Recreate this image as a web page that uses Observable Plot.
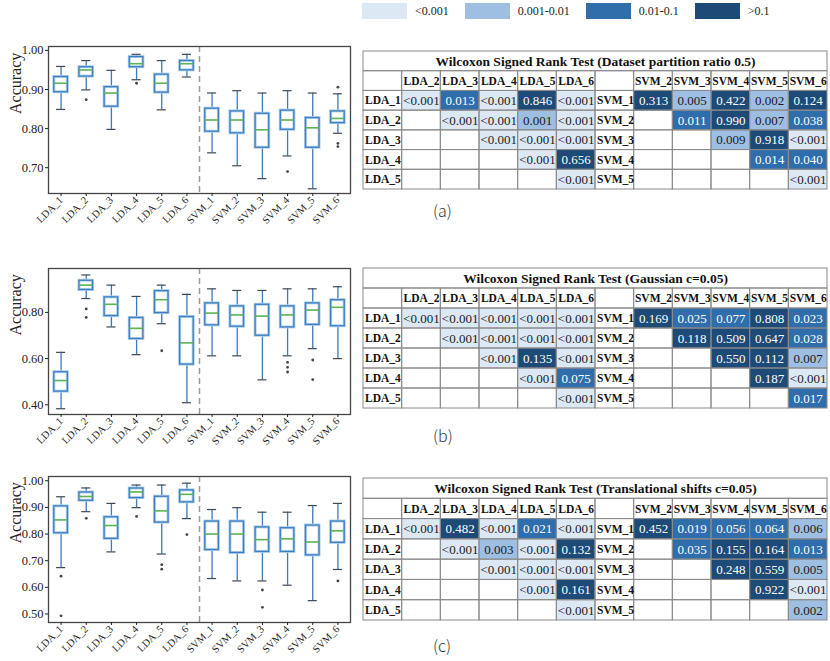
<!DOCTYPE html>
<html>
<head>
<meta charset="utf-8">
<script src="https://cdn.jsdelivr.net/npm/d3@7"></script>
<script src="https://cdn.jsdelivr.net/npm/@observablehq/plot@0.6"></script>
<style>
  html, body { margin: 0; padding: 0; background: #fff; }
  #page { position: relative; width: 830px; height: 661px; overflow: hidden; color: #222; font-family: "Liberation Serif", serif; }
  .abs { position: absolute; }
  .cap { position: absolute; font-family: "Noto Sans CJK SC", sans-serif; font-weight: 300; font-size: 16px; color: #333; }
  .lg-swatches, .lg-swatches * { font-family: "Liberation Serif", serif !important; font-size: 12px !important; color: #222 !important; }
  .lg-swatches { min-height: 0 !important; margin: 0 !important; }
  .lg-swatch { margin-right: 16px !important; }
  .lg-swatch > svg { margin-right: 8px !important; }
</style>
</head>
<body>
<div id="page"></div>
<script>
// ---------- data ----------
const ldaNames = ["LDA_1","LDA_2","LDA_3","LDA_4","LDA_5","LDA_6"];
const svmNames = ["SVM_1","SVM_2","SVM_3","SVM_4","SVM_5","SVM_6"];
const allNames = ldaNames.concat(svmNames);

// (a) Dataset partition ratio 0.5
const hiA  = [0.959, 0.974, 0.949, 0.990, 0.974, 0.990, 0.891, 0.897, 0.891, 0.897, 0.891, 0.889];
const q3A  = [0.932, 0.957, 0.906, 0.983, 0.938, 0.973, 0.851, 0.844, 0.838, 0.846, 0.827, 0.844];
const medA = [0.916, 0.950, 0.891, 0.966, 0.916, 0.966, 0.822, 0.822, 0.797, 0.822, 0.802, 0.826];
const q1A  = [0.893, 0.933, 0.856, 0.957, 0.892, 0.949, 0.792, 0.788, 0.751, 0.797, 0.751, 0.814];
const loA  = [0.849, 0.899, 0.798, 0.925, 0.848, 0.932, 0.738, 0.705, 0.672, 0.730, 0.646, 0.788];
const outA = [["LDA_2",0.874],["LDA_4",0.916],["SVM_4",0.690],["SVM_6",0.906],["SVM_6",0.762],["SVM_6",0.754]];

// (b) Gaussian c=0.05
const hiB  = [0.627, 0.962, 0.918, 0.869, 0.918, 0.878, 0.902, 0.895, 0.895, 0.902, 0.902, 0.911];
const q3B  = [0.541, 0.937, 0.865, 0.776, 0.892, 0.780, 0.839, 0.826, 0.833, 0.826, 0.839, 0.853];
const medB = [0.505, 0.918, 0.835, 0.731, 0.855, 0.668, 0.797, 0.789, 0.784, 0.789, 0.810, 0.822];
const q1B  = [0.457, 0.897, 0.784, 0.685, 0.797, 0.574, 0.744, 0.738, 0.699, 0.735, 0.746, 0.740];
const loB  = [0.383, 0.860, 0.737, 0.617, 0.751, 0.409, 0.612, 0.612, 0.508, 0.612, 0.643, 0.600];
const outB = [["LDA_2",0.815],["LDA_2",0.778],["LDA_5",0.634],["SVM_4",0.584],["SVM_4",0.562],["SVM_4",0.542],["SVM_5",0.594],["SVM_5",0.509]];

// (c) Translational shifts c=0.05
const hiC  = [0.940, 0.973, 0.915, 0.984, 0.984, 0.991, 0.892, 0.899, 0.882, 0.882, 0.907, 0.915];
const q3C  = [0.904, 0.956, 0.863, 0.971, 0.940, 0.964, 0.847, 0.847, 0.825, 0.822, 0.832, 0.847];
const medC = [0.853, 0.941, 0.832, 0.958, 0.887, 0.949, 0.800, 0.800, 0.779, 0.782, 0.770, 0.812];
const q1C  = [0.803, 0.925, 0.782, 0.935, 0.843, 0.919, 0.740, 0.729, 0.733, 0.733, 0.720, 0.767];
const loC  = [0.674, 0.884, 0.733, 0.899, 0.725, 0.858, 0.633, 0.624, 0.624, 0.608, 0.550, 0.667];
const outC = [["LDA_1",0.642],["LDA_1",0.493],["LDA_2",0.859],["LDA_4",0.866],["LDA_5",0.685],["LDA_5",0.668],["LDA_6",0.798],["SVM_3",0.590],["SVM_3",0.525],["SVM_6",0.624]];

const yTicksA = [0.7, 0.8, 0.9, 1.0];
const yTicksB = [0.4, 0.6, 0.8];
const yTicksC = [0.5, 0.6, 0.7, 0.8, 0.9, 1.0];

// Wilcoxon tables (upper triangles)
const titleA = "Wilcoxon Signed Rank Test (Dataset partition ratio 0.5)";
const titleB = "Wilcoxon Signed Rank Test (Gaussian c=0.05)";
const titleC = "Wilcoxon Signed Rank Test (Translational shifts c=0.05)";
const ldaA = [["<0.001","0.013","<0.001","0.846","<0.001"],["<0.001","<0.001","0.001","<0.001"],["<0.001","<0.001","<0.001"],["<0.001","0.656"],["<0.001"]];
const svmA = [["0.313","0.005","0.422","0.002","0.124"],["0.011","0.990","0.007","0.038"],["0.009","0.918","<0.001"],["0.014","0.040"],["<0.001"]];
const ldaB = [["<0.001","<0.001","<0.001","<0.001","<0.001"],["<0.001","<0.001","<0.001","<0.001"],["<0.001","0.135","<0.001"],["<0.001","0.075"],["<0.001"]];
const svmB = [["0.169","0.025","0.077","0.808","0.023"],["0.118","0.509","0.647","0.028"],["0.550","0.112","0.007"],["0.187","<0.001"],["0.017"]];
const ldaC = [["<0.001","0.482","<0.001","0.021","<0.001"],["<0.001","0.003","<0.001","0.132"],["<0.001","<0.001","<0.001"],["<0.001","0.161"],["<0.001"]];
const svmC = [["0.452","0.019","0.056","0.064","0.006"],["0.035","0.155","0.164","0.013"],["0.248","0.559","0.005"],["0.922","<0.001"],["0.002"]];

const pCats = ["<0.001","0.001-0.01","0.01-0.1",">0.1"];
const pColors = ["#dde8f5","#9ebfe1","#2f6dab","#1d4a76"];

// ---------- helpers ----------
const page = document.getElementById("page");
function place(el, left, top) { el.classList.add("abs"); el.style.left = left + "px"; el.style.top = top + "px"; page.appendChild(el); }

function boxPanel(lo, q1, med, q3, hi, outs, yDomain, yTicks, opts) {
  const rows = allNames.map((n, k) => ({name: n, i: k + 1, lo: lo[k], q1: q1[k], med: med[k], q3: q3[k], hi: hi[k]}));
  const pts = outs.map(([n, v]) => ({i: allNames.indexOf(n) + 1, v}));
  const bw = 0.27, cw = 0.18;
  return Plot.plot({
    width: 360, height: opts.height,
    marginLeft: 48, marginRight: 10, marginTop: opts.mt, marginBottom: opts.mb,
    style: {fontFamily: "Liberation Serif, serif", fontSize: "12.5px", background: "transparent", overflow: "visible", color: "#222"},
    x: {domain: [0.5, allNames.length + 0.5]},
    y: {domain: yDomain},
    marks: [
      Plot.ruleX([ldaNames.length + 0.5], {stroke: "#9a9a9a", strokeWidth: 1.5, strokeDasharray: "6,4"}),
      Plot.ruleX(rows, {x: "i", y1: "lo", y2: "q1", stroke: "#3a7bbb", strokeWidth: 1.3}),
      Plot.ruleX(rows, {x: "i", y1: "q3", y2: "hi", stroke: "#3a7bbb", strokeWidth: 1.3}),
      Plot.ruleY(rows, {y: "lo", x1: d => d.i - cw, x2: d => d.i + cw, stroke: "#3d4856", strokeWidth: 1.2}),
      Plot.ruleY(rows, {y: "hi", x1: d => d.i - cw, x2: d => d.i + cw, stroke: "#3d4856", strokeWidth: 1.2}),
      Plot.rect(rows, {x1: d => d.i - bw, x2: d => d.i + bw, y1: "q1", y2: "q3", fill: "white", stroke: "#b0cfea", strokeWidth: 3}),
      Plot.rect(rows, {x1: d => d.i - bw, x2: d => d.i + bw, y1: "q1", y2: "q3", fill: "none", stroke: "#3b7fc0", strokeWidth: 1.3}),
      Plot.ruleY(rows, {y: "med", x1: d => d.i - bw, x2: d => d.i + bw, stroke: "#5bb257", strokeWidth: 1.6}),
      Plot.dot(pts, {x: "i", y: "v", r: 1.4, fill: "#444", stroke: null}),
      Plot.frame({stroke: "#454545", strokeWidth: 1.3}),
      Plot.axisY({ticks: yTicks, tickFormat: d => d.toFixed(2), tickSize: 3, tickPadding: 2, fontSize: 12.5, label: null}),
      Plot.axisX({ticks: d3.range(1, allNames.length + 1), tickFormat: i => allNames[i - 1], tickRotate: -45, tickSize: 3, tickPadding: 2, fontSize: 10.5, label: null}),
      Plot.text(["Accuracy"], {text: d => d, frameAnchor: "left", rotate: -90, dx: -33, dy: -6, fontSize: 16, fill: "#222"})
    ]
  });
}

function catOf(s) {
  if (s.startsWith("<")) return pCats[0];
  const v = +s;
  if (v < 0.01) return pCats[1];
  if (v < 0.1) return pCats[2];
  return pCats[3];
}

function tablePanel(title, lda, svm, h) {
  const ncol = 12, nrow = 7;
  const grid = [];
  for (let r = 1; r < nrow; r++) for (let c = 0; c < ncol; c++) grid.push({c, r});
  const vals = [];
  lda.forEach((row, r) => row.forEach((s, k) => vals.push({c: 1 + r + k, r: 2 + r, s, cat: catOf(s)})));
  svm.forEach((row, r) => row.forEach((s, k) => vals.push({c: 7 + r + k, r: 2 + r, s, cat: catOf(s)})));
  const heads = [];
  ldaNames.slice(1).forEach((n, k) => heads.push({c: 1 + k, r: 1, s: n}));
  svmNames.slice(1).forEach((n, k) => heads.push({c: 7 + k, r: 1, s: n}));
  const rowLabs = [];
  ldaNames.slice(0, 5).forEach((n, k) => rowLabs.push({c: 0, r: 2 + k, s: n}));
  svmNames.slice(0, 5).forEach((n, k) => rowLabs.push({c: 6, r: 2 + k, s: n}));
  const dark = new Set([pCats[2], pCats[3]]);
  return Plot.plot({
    width: 466, height: h,
    marginLeft: 1, marginRight: 1, marginTop: 1, marginBottom: 1,
    style: {fontFamily: "Liberation Serif, serif", background: "transparent", overflow: "visible"},
    x: {domain: [0, ncol], axis: null},
    y: {domain: [0, nrow], reverse: true, axis: null},
    color: {type: "ordinal", domain: pCats, range: pColors},
    marks: [
      Plot.rect(vals, {x1: "c", x2: d => d.c + 1, y1: "r", y2: d => d.r + 1, fill: "cat"}),
      Plot.rect(grid, {x1: "c", x2: d => d.c + 1, y1: "r", y2: d => d.r + 1, fill: "none", stroke: "#8a8a8a", strokeWidth: 1}),
      Plot.rect([0], {x1: 0, x2: ncol, y1: 0, y2: 1, fill: "none", stroke: "#8a8a8a", strokeWidth: 1}),
      Plot.text([title], {text: d => d, x: ncol / 2, y: 0.5, fontWeight: "bold", fontSize: 13.5, fill: "#111"}),
      Plot.text(heads, {text: "s", x: d => d.c + 0.5, y: d => d.r + 0.5, fontWeight: "bold", fontSize: 11.5, fill: "#111"}),
      Plot.text(rowLabs, {text: "s", x: "c", y: d => d.r + 0.5, dx: 1.5, textAnchor: "start", fontWeight: "bold", fontSize: 11.5, fill: "#111"}),
      Plot.text(vals, {text: "s", x: d => d.c + 0.5, y: d => d.r + 0.5, fontSize: 13, fill: d => dark.has(d.cat) ? "#ffffff" : "#1a1a1a"})
    ]
  });
}

// ---------- legend ----------
const legend = Plot.legend({
  color: {type: "ordinal", domain: pCats, range: pColors},
  legend: "swatches", swatchWidth: 45, swatchHeight: 16, className: "lg",
  style: {fontFamily: "Liberation Serif, serif", fontSize: "12px"}
});
place(legend, 362, 3);

// ---------- box plots ----------
place(boxPanel(loA, q1A, medA, q3A, hiA, outA, [0.634, 1.010], yTicksA, {height: 208, mt: 16, mb: 45}), 0, 30);
place(boxPanel(loB, q1B, medB, q3B, hiB, outB, [0.358, 0.990], yTicksB, {height: 208, mt: 16, mb: 46}), 0, 252);
place(boxPanel(loC, q1C, medC, q3C, hiC, outC, [0.468, 1.016], yTicksC, {height: 200, mt: 16, mb: 38}), 0, 460);

// ---------- tables ----------
place(tablePanel(titleA, ldaA, svmA, 140), 361.7, 50);
place(tablePanel(titleB, ldaB, svmB, 142), 361.7, 266.7);
place(tablePanel(titleC, ldaC, svmC, 144), 361.7, 476.5);

// ---------- captions ----------
[["(a)", 198], ["(b)", 423], ["(c)", 633]].forEach(([t, top]) => {
  const d = document.createElement("div"); d.className = "cap"; d.textContent = t;
  d.style.left = "433px"; d.style.top = top + "px"; page.appendChild(d);
});
</script>
</body>
</html>
